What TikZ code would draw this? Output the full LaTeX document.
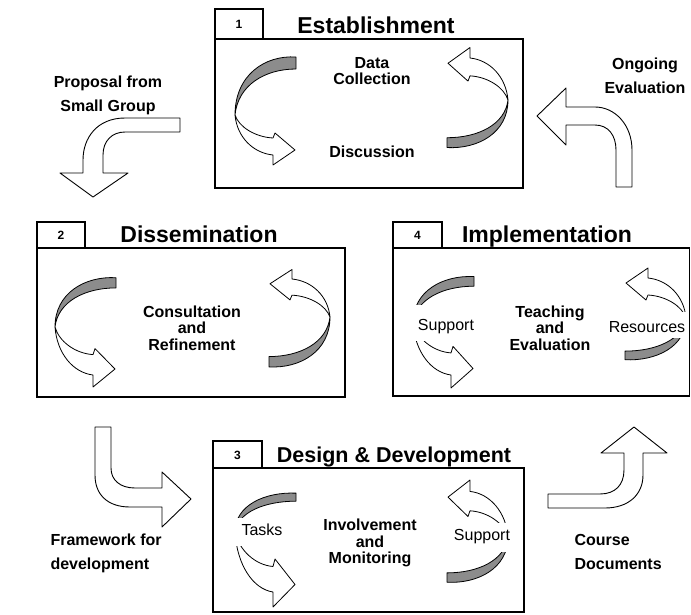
\documentclass[tikz,border=0pt]{standalone}
\usepackage{fontspec}
\setmainfont{Liberation Sans}
\tikzset{
  frame/.style={draw=black, line width=1.1pt},
  blockarrow/.style={draw=black, fill=white, line width=0.9pt, line join=round},
  hatchband/.style={draw=black, fill=black!45, line width=0.8pt, line join=round},
  whiteband/.style={draw=black, fill=white, line width=0.8pt, line join=round},
  title/.style={font=\bfseries\fontsize{23}{26}\selectfont, anchor=base},
  tabnum/.style={font=\bfseries\fontsize{12}{14}\selectfont},
  inner/.style={font=\bfseries\fontsize{16}{16.5}\selectfont, align=center},
  plain/.style={font=\fontsize{16}{18}\selectfont},
  outer/.style={font=\bfseries\fontsize{16}{24}\selectfont, align=center},
  outerl/.style={font=\bfseries\fontsize{16}{24}\selectfont, align=left, anchor=west},
}
\newcommand{\ribbon}[4]{%
  \begin{scope}[shift={#1}, rotate=#2]
    \begin{scope}[yscale=#3]
      \draw[hatchband] (61,-58) .. controls (30,-60) and (0,-40) .. (0,0)
        .. controls (3,-30) and (30,-46) .. (61,-46) -- cycle;
    \end{scope}
    \begin{scope}[yscale=#4]
      \draw[whiteband] (0,0) .. controls (2,22) and (18,38) .. (38,40)
        -- (38,50) -- (60,35) -- (40,18) -- (38,23)
        .. controls (20,22) and (4,12) .. (0,0) -- cycle;
    \end{scope}
  \end{scope}}
\begin{document}
\begin{tikzpicture}[x=1pt, y=-1pt]
\useasboundingbox (0,0) rectangle (691,614);
\fill[white] (0,0) rectangle (691,614);

% ---------- Box 1: Establishment ----------
\draw[frame] (215,39) rectangle (523,188);
\draw[frame] (215,9) rectangle (263,39);
\node[tabnum] (n1) at (239,24) {1};
\node[title] (t1) at (376,33) {Establishment};
\ribbon{(235,115)}{0}{1}{1}
\ribbon{(508,100)}{180}{0.82}{1.05}
\node[inner] (dc) at (372,71) {Data\\Collection};
\node[inner] (disc) at (372,152) {Discussion};

% ---------- Box 2: Dissemination ----------
\draw[frame] (37,248) rectangle (345,397);
\draw[frame] (37,222) rectangle (85,248);
\node[tabnum] (n2) at (61,235) {2};
\node[title] (t2) at (199,242) {Dissemination};
\ribbon{(55,327)}{0}{0.85}{1.2}
\ribbon{(330,317)}{180}{0.86}{0.95}
\node[inner] (cr) at (192,328) {Consultation\\and\\Refinement};

% ---------- Box 4: Implementation ----------
\draw[frame] (393,248) rectangle (689.5,396);
\draw[frame] (393,222) rectangle (442,248);
\node[tabnum] (n4) at (417.5,235) {4};
\node[title] (t4) at (547,242) {Implementation};
\ribbon{(413,323)}{0}{0.8}{1.3}
\ribbon{(686,318)}{180}{0.72}{1.0}
\fill[white] (398,305) rectangle (482,341);
\fill[white] (600,312) rectangle (687.5,338);
\node[plain] (sup4) at (446,327) {Support};
\node[plain] (res) at (647,327) {Resources};
\node[inner] (te) at (550,328) {Teaching\\and\\Evaluation};

% ---------- Box 3: Design & Development ----------
\draw[frame] (213,468) rectangle (524,612);
\draw[frame] (213,441) rectangle (262,468);
\node[tabnum] (n3) at (237.5,455) {3};
\node[title, font=\bfseries\fontsize{21.5}{24}\selectfont] (t3) at (394,462) {Design \& Development};
\ribbon{(235,532)}{0}{0.67}{1.5}
\ribbon{(508,537)}{180}{0.78}{1.14}
\fill[white] (225,518) rectangle (302,546);
\fill[white] (452,523) rectangle (521,552);
\node[plain] (tasks) at (262,530) {Tasks};
\node[plain] (sup3) at (482,537) {Support};
\node[inner] (im) at (370,543) {Involvement\\and\\Monitoring};

% ---------- Outer block arrows ----------
% Proposal from Small Group -> Dissemination
\draw[blockarrow] (180,118) -- (125,118) .. controls (97,118) and (83,138) .. (83,160)
  -- (83,173) -- (60,173) -- (93,197) -- (128,173) -- (103,173) -- (103,155)
  .. controls (103,141) and (112,132) .. (125,132) -- (180,132) -- cycle;
\node[outer] (prop) at (108,95) {Proposal from\\Small Group};

% Ongoing Evaluation -> Establishment
\draw[blockarrow] (616,187) -- (632,187) -- (632,150) .. controls (632,125) and (615,107) .. (595,107)
  -- (566,107) -- (566,88) -- (537,116) -- (566,145) -- (566,125) -- (595,125)
  .. controls (608,125) and (616,135) .. (616,150) -- cycle;
\node[outer] (ong) at (645,76) {Ongoing\\Evaluation};

% Framework for development -> Design & Development
\draw[blockarrow] (95,427) -- (111,427) -- (111,468) .. controls (111,480) and (120,488) .. (135,488)
  -- (162,488) -- (162,472) -- (191,499) -- (162,527) -- (162,507) -- (130,507)
  .. controls (108,507) and (95,495) .. (95,475) -- cycle;
\node[outerl] (fw) at (47,553) {Framework for\\development};

% Course Documents -> Implementation
\draw[blockarrow] (548,494) -- (600,494) .. controls (615,494) and (624,485) .. (624,470)
  -- (624,453) -- (601,453) -- (634,427) -- (667,453) -- (643,453) -- (643,475)
  .. controls (643,495) and (628,508) .. (605,508) -- (548,508) -- cycle;
\node[outerl] (cd) at (571,552) {Course\\Documents};
\end{tikzpicture}
\end{document}
